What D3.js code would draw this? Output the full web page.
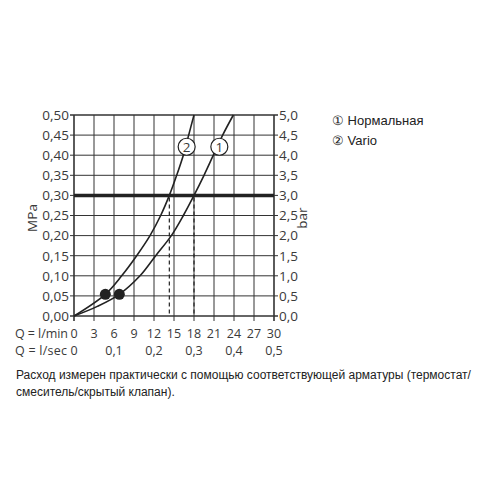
<!DOCTYPE html>
<html>
<head>
<meta charset="utf-8">
<script src="https://cdn.jsdelivr.net/npm/d3@7"></script>
<style>
  body { margin: 0; background: #fff; }
  svg { display: block; }
  .ax { font-family: "Open Sans", "Lato", sans-serif; font-size: 13.5px; fill: #3a3a3a; }
  .bt { font-size: 12.5px; }
  .txt { font-family: "Liberation Sans", Arial, sans-serif; font-size: 12px; fill: #222; }
</style>
</head>
<body>
<div id="chart"></div>
<script>
var lpmTicks = [0, 3, 6, 9, 12, 15, 18, 21, 24, 27, 30];
var lsecTicks = [0, 0.1, 0.2, 0.3, 0.4, 0.5];
var mpaTicks = [0, 0.05, 0.1, 0.15, 0.2, 0.25, 0.3, 0.35, 0.4, 0.45, 0.5];
var barTicks = [0, 0.5, 1, 1.5, 2, 2.5, 3, 3.5, 4, 4.5, 5];

// curve 1 (Нормальная)
var curve1Q = [0, 3.5, 6.8, 9.9, 12.25, 14.6, 16.4, 18, 19.5, 20.9, 22.3, 23.9];
var curve1P = [0, 0.024, 0.054, 0.10, 0.15, 0.20, 0.25, 0.30, 0.35, 0.40, 0.45, 0.50];
// curve 2 (Vario)
var curve2Q = [0, 4.7, 7.15, 9.4, 11.4, 13.0, 14.3, 15.4, 16.4, 17.2, 18.0];
var curve2P = [0, 0.054, 0.10, 0.15, 0.20, 0.25, 0.30, 0.35, 0.40, 0.45, 0.50];

var refPressure = 0.3;
var dropQ = [14.3, 18];
var dotsQ = [4.7, 6.8];
var dotP = 0.054;
var labels = [{ t: '2', q: 16.9, p: 0.421 }, { t: '1', q: 21.8, p: 0.421 }];
var legend = ['\u2460 Нормальная', '\u2461 Vario'];
var note = ['Расход измерен практически с помощью соответствующей арматуры (термостат/',
            'смеситель/скрытый клапан).'];

var fmt = function(d, n) { return d.toFixed(n).replace('.', ','); };

var svg = d3.select('#chart').append('svg')
    .attr('width', 500).attr('height', 500);

var x = d3.scaleLinear().domain([0, 30]).range([74, 274]);
var y = d3.scaleLinear().domain([0, 0.5]).range([316, 115]);
var yBar = d3.scaleLinear().domain([0, 5]).range([316, 115]);
var ink = '#333';

var g = svg.append('g');

// vertical grid, extending below axis as ticks
g.selectAll('line.v').data(lpmTicks).enter().append('line')
    .attr('class', 'v')
    .attr('x1', x).attr('x2', x)
    .attr('y1', y(0.5)).attr('y2', y(0) + 5)
    .attr('stroke', ink).attr('stroke-width', function(d) { return d === 0 || d === 30 ? 1.6 : 1; });

// horizontal grid with outer ticks
g.selectAll('line.h').data(mpaTicks).enter().append('line')
    .attr('class', 'h')
    .attr('x1', x(0) - 4).attr('x2', x(30) + 4)
    .attr('y1', y).attr('y2', y)
    .attr('stroke', ink).attr('stroke-width', function(d) { return d === 0 || d === 0.5 ? 1.4 : 1; });

// reference pressure
g.append('line')
    .attr('x1', x(0)).attr('x2', x(30))
    .attr('y1', y(refPressure)).attr('y2', y(refPressure))
    .attr('stroke', '#222').attr('stroke-width', 3.5);

g.selectAll('line.drop').data(dropQ).enter().append('line')
    .attr('class', 'drop')
    .attr('x1', x).attr('x2', x)
    .attr('y1', y(refPressure) + 2).attr('y2', y(0))
    .attr('stroke', '#222').attr('stroke-width', 1.2)
    .attr('stroke-dasharray', '4,3');

var line = d3.line()
    .x(function(d) { return x(d[0]); })
    .y(function(d) { return y(d[1]); })
    .curve(d3.curveCatmullRom);

[[curve1Q, curve1P], [curve2Q, curve2P]].forEach(function(c) {
  g.append('path')
      .datum(d3.zip(c[0], c[1]))
      .attr('d', line)
      .attr('fill', 'none').attr('stroke', '#222').attr('stroke-width', 1.6);
});

g.selectAll('circle.dot').data(dotsQ).enter().append('circle')
    .attr('class', 'dot')
    .attr('cx', x).attr('cy', y(dotP)).attr('r', 5.5)
    .attr('fill', '#222');

var lab = g.selectAll('g.lab').data(labels).enter().append('g')
    .attr('class', 'lab')
    .attr('transform', function(d) { return 'translate(' + x(d.q) + ',' + y(d.p) + ')'; });
lab.append('circle').attr('r', 8.5).attr('fill', '#fff').attr('stroke', '#222').attr('stroke-width', 1.2);
lab.append('text').attr('class', 'ax').attr('text-anchor', 'middle').attr('dy', '0.36em')
    .text(function(d) { return d.t; });

// left / right axis labels
g.selectAll('text.l').data(mpaTicks).enter().append('text')
    .attr('class', 'ax l').attr('text-anchor', 'end')
    .attr('x', x(0) - 5).attr('y', y).attr('dy', '0.36em')
    .text(function(d) { return fmt(d, 2); });

g.selectAll('text.r').data(barTicks).enter().append('text')
    .attr('class', 'ax r')
    .attr('x', x(30) + 5).attr('y', yBar).attr('dy', '0.36em')
    .text(function(d) { return fmt(d, 1); });

g.append('text').attr('class', 'ax').attr('text-anchor', 'middle')
    .attr('transform', 'translate(37,218) rotate(-90)').text('MPa');
g.append('text').attr('class', 'ax').attr('text-anchor', 'middle')
    .attr('transform', 'translate(307,218) rotate(-90)').text('bar');

// bottom labels
g.selectAll('text.b1').data(lpmTicks).enter().append('text')
    .attr('class', 'ax bt b1').attr('text-anchor', 'middle')
    .attr('x', x).attr('y', 338)
    .text(function(d) { return d; });
g.selectAll('text.b2').data(lsecTicks).enter().append('text')
    .attr('class', 'ax bt b2').attr('text-anchor', 'middle')
    .attr('x', function(d) { return x(d * 60); }).attr('y', 355)
    .text(function(d) { return d === 0 ? '0' : fmt(d, 1); });
g.append('text').attr('class', 'ax bt').attr('x', 15).attr('y', 338)
    .attr('textLength', 53).text('Q = l/min');
g.append('text').attr('class', 'ax bt').attr('x', 15).attr('y', 355)
    .attr('textLength', 52).text('Q = l/sec');

// legend
svg.selectAll('text.leg').data(legend).enter().append('text')
    .attr('class', 'txt leg').style('font-size', '13px')
    .attr('x', 332).attr('y', function(d, i) { return 125 + i * 20; })
    .text(function(d) { return d; });

// footnote
svg.selectAll('text.note').data(note).enter().append('text')
    .attr('class', 'txt note')
    .attr('x', 16).attr('y', function(d, i) { return 379 + i * 17; })
    .text(function(d) { return d; });
</script>
</body>
</html>
